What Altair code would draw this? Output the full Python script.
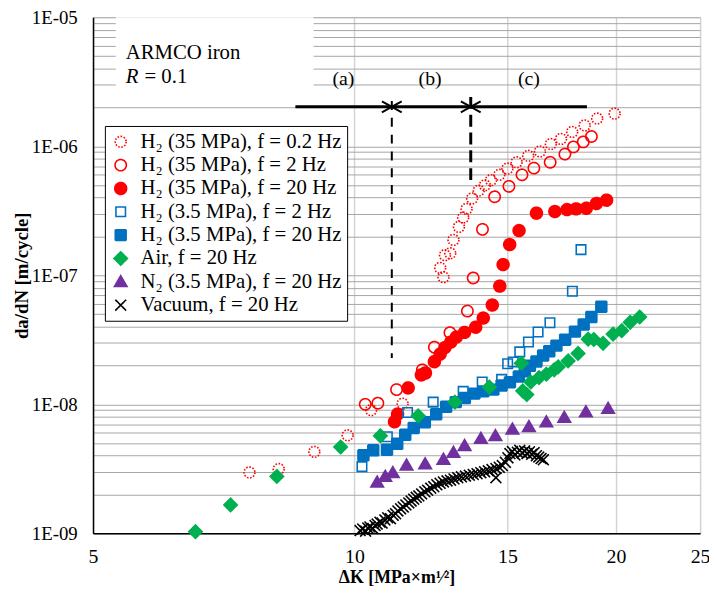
import altair as alt
import pandas as pd

FONT = "Liberation Serif"

# ---------------- data ----------------
series_names = [
    "H₂ (35 MPa), f = 0.2 Hz",
    "H₂ (35 MPa), f = 2 Hz",
    "H₂ (35 MPa), f = 20 Hz",
    "H₂ (3.5 MPa), f = 2 Hz",
    "H₂ (3.5 MPa), f = 20 Hz",
    "Air, f = 20 Hz",
    "N₂ (3.5 MPa), f = 20 Hz",
    "Vacuum, f = 20 Hz",
]

dk_h2_35_02 = [7.57, 8.18, 8.99, 9.82, 10.45, 11.36, 12.55, 12.66, 12.71, 12.89, 13.0, 13.19, 13.34, 13.46,
               13.66, 13.90, 14.13, 14.36, 14.68, 15.0, 15.37, 15.85, 16.35, 16.83, 17.29, 17.81, 18.41, 19.03, 19.93]
rate_h2_35_02 = [2.96e-9, 3.15e-9, 4.28e-9, 5.75e-9, 9.0e-9, 1.01e-8, 1.14e-7, 9.66e-8, 1.43e-7, 1.48e-7, 1.88e-7,
                 2.37e-7, 2.80e-7, 3.27e-7, 3.94e-7, 4.53e-7, 4.98e-7, 5.45e-7, 6.01e-7, 6.71e-7, 7.51e-7, 8.43e-7,
                 9.11e-7, 1.04e-6, 1.14e-6, 1.29e-6, 1.45e-6, 1.64e-6, 1.79e-6]

dk_h2_35_2 = [10.29, 10.64, 11.18, 11.97, 12.36, 12.88, 13.49, 13.70, 14.04, 14.50, 15.06, 15.59, 16.09, 16.80,
              17.47, 17.87, 18.34, 18.74]
rate_h2_35_2 = [1.0e-8, 1.02e-8, 1.30e-8, 1.85e-8, 2.77e-8, 3.59e-8, 5.28e-8, 9.53e-8, 2.27e-7, 4.06e-7, 4.89e-7,
                6.01e-7, 6.77e-7, 7.51e-7, 8.69e-7, 9.88e-7, 1.08e-6, 1.19e-6]

dk_h2_35_20 = [11.12, 11.21, 11.53, 11.94, 12.07, 12.36, 12.55, 12.71, 12.91, 13.10, 13.39, 13.79, 14.07, 14.41,
               14.70, 14.83, 15.09, 15.47, 16.20, 17.01, 17.57, 18.0, 18.49, 18.99, 19.51]
rate_h2_35_20 = [7.33e-9, 8.39e-9, 1.34e-8, 1.69e-8, 1.75e-8, 2.14e-8, 2.45e-8, 2.75e-8, 3.04e-8, 3.32e-8, 3.61e-8,
                 3.96e-8, 4.66e-8, 5.88e-8, 8.24e-8, 1.21e-7, 1.73e-7, 2.22e-7, 3.03e-7, 3.12e-7, 3.23e-7, 3.27e-7,
                 3.31e-7, 3.60e-7, 3.82e-7]

dk_h2_35_2_low = [10.20, 10.91, 11.51, 12.32, 13.34, 14.03, 14.77, 15.01, 15.23, 15.50, 15.86, 16.27, 16.79, 17.82, 18.23]
rate_h2_35_2_low = [3.29e-9, 5.60e-9, 8.64e-9, 1.04e-8, 1.26e-8, 1.49e-8, 1.56e-8, 2.06e-8, 2.13e-8, 2.55e-8,
                    3.04e-8, 3.63e-8, 4.29e-8, 7.51e-8, 1.58e-7]

dk_h2_35_20_low = [10.24, 10.51, 10.90, 11.20, 11.44, 11.70, 12.05, 12.42, 12.75, 13.08, 13.40, 13.74, 14.07, 14.45,
                   14.77, 15.10, 15.46, 15.71, 15.92, 16.20, 16.49, 16.76, 17.08, 17.48, 17.94, 18.36, 18.74, 19.24]
rate_h2_35_20_low = [4.03e-9, 4.40e-9, 4.44e-9, 4.95e-9, 5.80e-9, 6.56e-9, 7.25e-9, 8.39e-9, 9.57e-9, 1.04e-8,
                     1.12e-8, 1.21e-8, 1.26e-8, 1.30e-8, 1.40e-8, 1.48e-8, 1.64e-8, 1.80e-8, 1.99e-8, 2.15e-8,
                     2.39e-8, 2.58e-8, 2.85e-8, 3.17e-8, 3.66e-8, 4.15e-8, 4.75e-8, 5.70e-8]

dk_air = [6.56, 7.20, 8.14, 9.64, 10.71, 11.84, 13.05, 14.30, 15.56, 15.62, 15.79, 15.96, 16.31, 16.63, 16.98,
          17.16, 17.62, 18.09, 18.58, 18.86, 19.33, 19.85, 20.31, 20.77, 21.30]
rate_air = [1.03e-9, 1.66e-9, 2.76e-9, 4.67e-9, 5.70e-9, 8.14e-9, 1.04e-8, 1.36e-8, 2.08e-8, 1.27e-8, 1.19e-8,
            1.49e-8, 1.61e-8, 1.71e-8, 1.85e-8, 1.95e-8, 2.17e-8, 2.48e-8, 3.20e-8, 3.18e-8, 2.97e-8, 3.50e-8,
            3.72e-8, 4.32e-8, 4.75e-8]

dk_n2 = [10.62, 10.85, 11.07, 11.48, 12.06, 12.66, 13.0, 13.39, 13.98, 14.53, 15.20, 15.88, 16.63, 17.44, 18.47, 19.59]
rate_n2 = [2.49e-9, 2.76e-9, 2.95e-9, 3.37e-9, 3.45e-9, 3.74e-9, 4.23e-9, 4.78e-9, 5.43e-9, 5.70e-9, 6.41e-9,
           6.70e-9, 7.29e-9, 7.91e-9, 8.73e-9, 9.27e-9]

dk_vac = [10.15, 10.22, 10.30, 10.36, 10.42, 10.50, 10.56, 10.62, 10.70, 10.76, 10.84, 10.92,
          11.00, 11.08, 11.15, 11.22, 11.30, 11.38, 11.46, 11.55, 11.62, 11.70, 11.78, 11.86,
          11.95, 12.05, 12.14, 12.24, 12.34, 12.44, 12.55, 12.66, 12.78, 12.90,
          13.02, 13.15, 13.28, 13.42, 13.56, 13.70, 13.84, 13.98,
          14.12, 14.26, 14.40, 14.55, 14.68, 14.55, 14.80, 14.92,
          15.02, 15.10, 15.20, 15.30, 15.40, 15.50, 15.60, 15.70, 15.80, 15.90,
          16.00, 16.10, 16.20, 16.30, 16.40, 16.50]
rate_vac = [1.05e-9, 1.08e-9, 1.04e-9, 1.10e-9, 1.12e-9, 1.09e-9, 1.15e-9, 1.18e-9, 1.22e-9, 1.20e-9, 1.27e-9, 1.32e-9,
            1.30e-9, 1.38e-9, 1.42e-9, 1.49e-9, 1.55e-9, 1.60e-9, 1.66e-9, 1.72e-9, 1.78e-9, 1.84e-9, 1.90e-9, 1.95e-9,
            2.02e-9, 2.10e-9, 2.16e-9, 2.24e-9, 2.30e-9, 2.38e-9, 2.44e-9, 2.50e-9, 2.55e-9, 2.58e-9,
            2.64e-9, 2.70e-9, 2.74e-9, 2.78e-9, 2.82e-9, 2.86e-9, 2.90e-9, 2.95e-9,
            3.00e-9, 3.05e-9, 3.12e-9, 3.18e-9, 3.25e-9, 2.70e-9, 3.35e-9, 3.55e-9,
            3.85e-9, 4.15e-9, 4.30e-9, 4.05e-9, 4.25e-9, 4.40e-9, 4.20e-9, 4.35e-9, 4.15e-9, 4.28e-9,
            4.10e-9, 4.22e-9, 4.00e-9, 3.90e-9, 3.80e-9, 3.72e-9]

# regime boundaries and annotation
boundary_dk = [11.04, 13.61]
boundary_top = [2.24e-6, 2.41e-6]
boundary_bottom = [2.29e-8, 5.22e-7]
arrow_dk = [8.55, 18.52]
arrow_rate = 2.02e-6
regime_labels = ["(a)", "(b)", "(c)"]
regime_dk = [9.71, 12.22, 15.88]
regime_rate = 3.30e-6

# ---------------- styles ----------------
RED, BLUE, GREEN, PURPLE, BLACK = "#ff0000", "#0070c0", "#00b050", "#7030a0", "#000000"


def circle(r):
    return f"M{r},0A{r},{r},0,1,1,{-r},0A{r},{r},0,1,1,{r},0Z"


def square(h):
    return f"M{-h},{-h}L{h},{-h}L{h},{h}L{-h},{h}Z"


shapes = [circle(0.55), circle(0.57), circle(0.6), square(0.48), square(0.55),
          "M0,-0.68L0.68,0L0,0.68L-0.68,0Z", "M0,-0.62L0.64,0.48L-0.64,0.48Z",
          "M-0.55,-0.55L0.55,0.55M-0.55,0.55L0.55,-0.55"]
fills = ["transparent", "transparent", RED, "transparent", BLUE, GREEN, PURPLE, "transparent"]
strokes = [RED, RED, RED, BLUE, BLUE, GREEN, PURPLE, BLACK]
dashes = [[1.6, 1.6], [1, 0], [1, 0], [1, 0], [1, 0], [1, 0], [1, 0], [1, 0]]

all_dk = [dk_h2_35_02, dk_h2_35_2, dk_h2_35_20, dk_h2_35_2_low, dk_h2_35_20_low, dk_air, dk_n2, dk_vac]
all_rate = [rate_h2_35_02, rate_h2_35_2, rate_h2_35_20, rate_h2_35_2_low, rate_h2_35_20_low, rate_air, rate_n2, rate_vac]

rows = []
for name, xs, ys in zip(series_names, all_dk, all_rate):
    for a, b in zip(xs, ys):
        rows.append({"series": name, "dK": a, "rate": b})
df = pd.DataFrame(rows)

y_ticks = [k * 10.0 ** e for e in range(-9, -5) for k in range(1, 10)] + [1e-5]

xscale = alt.Scale(type="log", domain=[5, 25], nice=False)
yscale = alt.Scale(type="log", domain=[1e-9, 1e-5], nice=False)

xaxis = alt.Axis(values=[5, 10, 15, 20, 25], format="d", title="ΔK  [MPa×m¹⁄²]",
                 labelFont=FONT, labelFontSize=20, labelColor="black", labelPadding=14,
                 labelFlush=False, labelOverlap=False, ticks=False, tickSize=0,
                 grid=True, gridColor="#d4d4d4", gridWidth=1.5,
                 domainColor="black", domainWidth=1.5,
                 titleFont=FONT, titleFontSize=18, titleFontWeight="bold", titleColor="black",
                 titlePadding=2)
yaxis = alt.Axis(values=y_ticks,
                 labelExpr="abs(log(datum.value)/LN10 - round(log(datum.value)/LN10)) < 0.01 ? "
                           "'1E-0' + (-round(log(datum.value)/LN10)) : ''",
                 title="da/dN [m/cycle]", labelFont=FONT, labelFontSize=19, labelColor="black",
                 labelPadding=16, labelOverlap=False, labelFlush=False, ticks=False, tickSize=0,
                 grid=True, gridColor="#a6a6a6", gridWidth=1,
                 domainColor="black", domainWidth=1.5,
                 titleFont=FONT, titleFontSize=19, titleFontWeight="bold", titleColor="black",
                 titlePadding=0)

X = alt.X("dK:Q", scale=xscale, axis=xaxis)
Y = alt.Y("rate:Q", scale=yscale, axis=yaxis)

leg = alt.Legend(orient="none", legendX=12, legendY=110, title=None, fillColor="white",
                 strokeColor="black", padding=5, labelFont=FONT, labelFontSize=21, labelColor="black",
                 symbolSize=400, symbolStrokeWidth=1.6, rowPadding=2.6, labelOffset=9, labelLimit=400,
                 symbolOffset=0)

points = alt.Chart(df).mark_point(size=400, strokeWidth=1.6, opacity=1).encode(
    x=X, y=Y,
    shape=alt.Shape("series:N", scale=alt.Scale(domain=series_names, range=shapes), legend=leg),
    fill=alt.Fill("series:N", scale=alt.Scale(domain=series_names, range=fills), legend=leg),
    stroke=alt.Stroke("series:N", scale=alt.Scale(domain=series_names, range=strokes), legend=leg),
    strokeDash=alt.StrokeDash("series:N", scale=alt.Scale(domain=series_names, range=dashes), legend=leg),
)

# white box behind the material label
box = alt.Chart(pd.DataFrame({"k": [0]})).mark_rect(fill="white").encode(
    x=alt.value(23), x2=alt.value(223), y=alt.value(0), y2=alt.value(78))

material = alt.Chart(pd.DataFrame({"t": ["ARMCO iron"]})).mark_text(
    font=FONT, fontSize=21, align="left", baseline="middle", color="black").encode(
    x=alt.value(33), y=alt.value(36), text="t:N")
r_sym = alt.Chart(pd.DataFrame({"t": ["R"]})).mark_text(
    font=FONT, fontSize=21, fontStyle="italic", align="left", baseline="middle", color="black").encode(
    x=alt.value(33), y=alt.value(61), text="t:N")
r_val = alt.Chart(pd.DataFrame({"t": ["= 0.1"]})).mark_text(
    font=FONT, fontSize=21, align="left", baseline="middle", color="black").encode(
    x=alt.value(52), y=alt.value(61), text="t:N")

b1 = pd.DataFrame({"dK": [boundary_dk[0]], "rate": [boundary_top[0]], "rate2": [boundary_bottom[0]]})
b2 = pd.DataFrame({"dK": [boundary_dk[1]], "rate": [boundary_top[1]], "rate2": [boundary_bottom[1]]})
rule1 = alt.Chart(b1).mark_rule(color="black", strokeWidth=2, strokeDash=[9, 8]).encode(x=X, y=Y, y2="rate2:Q")
rule2 = alt.Chart(b2).mark_rule(color="black", strokeWidth=3, strokeDash=[12, 6]).encode(x=X, y=Y, y2="rate2:Q")

arr = pd.DataFrame({"dK": [arrow_dk[0]], "dK2": [arrow_dk[1]], "rate": [arrow_rate]})
arrow_line = alt.Chart(arr).mark_rule(color="black", strokeWidth=3).encode(x=X, x2="dK2:Q", y=Y)

heads = pd.DataFrame({"dK": boundary_dk, "rate": [arrow_rate] * 2})
head_r = alt.Chart(heads).mark_point(shape="M-1,-0.55L0,0L-1,0.55", size=400, filled=False,
                                     stroke="black", strokeWidth=2, opacity=1).encode(x=X, y=Y)
head_l = alt.Chart(heads).mark_point(shape="M1,-0.55L0,0L1,0.55", size=400, filled=False,
                                     stroke="black", strokeWidth=2, opacity=1).encode(x=X, y=Y)

lab = pd.DataFrame({"dK": regime_dk, "rate": [regime_rate] * 3, "t": regime_labels})
regime_text = alt.Chart(lab).mark_text(font=FONT, fontSize=20, color="black", baseline="middle").encode(
    x=X, y=Y, text="t:N")

chart = alt.layer(box, points, rule1, rule2, arrow_line, head_r, head_l, regime_text, material, r_sym, r_val).properties(
    width=614, height=522,
    autosize=alt.AutoSizeParams(type="none"),
    padding={"left": 86, "top": 6, "right": 9, "bottom": 56},
).configure_view(stroke="#a6a6a6", strokeWidth=1).configure(background="white")

chart.save("out.html", embed_options={"renderer": "svg", "actions": False})
